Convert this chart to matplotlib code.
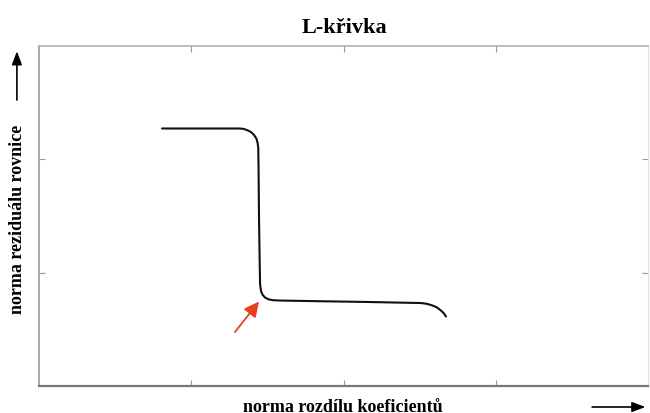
import matplotlib
matplotlib.use("Agg")
import matplotlib.pyplot as plt

# Data (axis units: x 0..4, y 0..3)
curve_x = [0.808, 1.057, 1.320, 1.346, 1.373, 1.396, 1.415, 1.429, 1.436, 1.440,
           1.442, 1.445, 1.449, 1.452, 1.455, 1.459, 1.468, 1.484, 1.507, 1.537,
           1.583, 1.846, 2.174, 2.509, 2.548, 2.581, 2.614, 2.640, 2.660, 2.673]
curve_y = [2.272, 2.272, 2.272, 2.268, 2.254, 2.237, 2.210, 2.179, 2.144, 2.100,
           1.915, 1.474, 1.121, 0.900, 0.865, 0.834, 0.806, 0.781, 0.765, 0.757,
           0.754, 0.748, 0.741, 0.732, 0.725, 0.712, 0.693, 0.666, 0.640, 0.613]
arrow_tail = (1.287, 0.476)
arrow_tip = (1.445, 0.745)
x_ticks = [1, 2, 3]
y_ticks = [1, 2]

title = "L-křivka"
xlabel = "norma rozdílu koeficientů"
ylabel = "norma reziduálu rovnice"

plt.rcParams['font.family'] = ['Liberation Serif', 'DejaVu Serif']

fig = plt.figure(figsize=(6.5, 4.14), dpi=100)
ax = fig.add_axes([0.06, 0.0652, 0.937, 0.8213])
ax.set_xlim(0, 4)
ax.set_ylim(0, 3)

ax.plot(curve_x, curve_y, color='#111111', lw=1.5, solid_capstyle='round',
        solid_joinstyle='round')
ax.annotate('', xy=arrow_tip, xytext=arrow_tail,
            arrowprops=dict(arrowstyle='-|>,head_length=0.9,head_width=0.45',
                            color='#e8401c', lw=1.3, shrinkA=0, shrinkB=0))

ax.set_xticks(x_ticks)
ax.set_yticks(y_ticks)
ax.tick_params(direction='in', length=4, width=0.8, color='#999999',
               labelbottom=False, labelleft=False, top=True, right=True)

ax.spines['bottom'].set_color('#777777')
ax.spines['bottom'].set_linewidth(1.6)
ax.spines['left'].set_color('#999999')
ax.spines['left'].set_linewidth(1.2)
ax.spines['top'].set_color('#b0b0b0')
ax.spines['top'].set_linewidth(1.2)
ax.spines['right'].set_color('#e0e0e0')
ax.spines['right'].set_linewidth(0.8)

fig.text(0.530, 0.920, title, ha='center', va='baseline', fontsize=16,
         fontweight='bold')
fig.text(0.528, 0.006, xlabel, ha='center', va='baseline', fontsize=13,
         fontweight='bold')
fig.text(0.027, 0.469, ylabel, ha='center', va='center', fontsize=13,
         fontweight='bold', rotation=90)

# axis direction arrows
ax.annotate('', xy=(0.026, 0.874), xytext=(0.026, 0.756),
            xycoords='figure fraction', textcoords='figure fraction',
            arrowprops=dict(arrowstyle='-|>,head_length=0.8,head_width=0.3',
                            color='black', lw=1.2, shrinkA=0, shrinkB=0),
            annotation_clip=False)
ax.annotate('', xy=(0.993, 0.0145), xytext=(0.911, 0.0145),
            xycoords='figure fraction', textcoords='figure fraction',
            arrowprops=dict(arrowstyle='-|>,head_length=0.8,head_width=0.3',
                            color='black', lw=1.2, shrinkA=0, shrinkB=0),
            annotation_clip=False)

fig.savefig('out.png', dpi=100)
